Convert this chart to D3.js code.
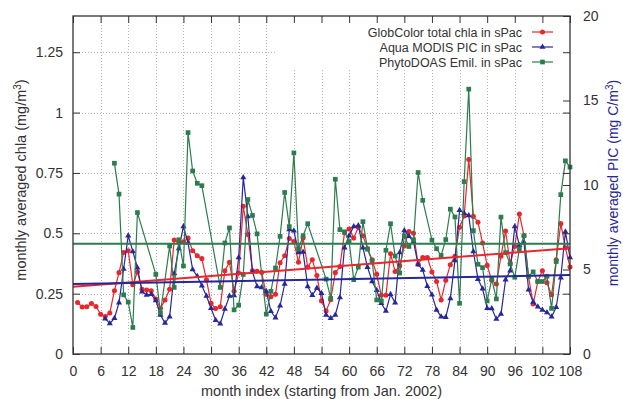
<!DOCTYPE html>
<html>
<head>
<meta charset="utf-8">
<script src="https://cdn.jsdelivr.net/npm/d3@7"></script>
<style>
  html, body { margin: 0; padding: 0; background: #fff; }
  svg { display: block; font-family: "Liberation Sans", Arial, Helvetica, sans-serif; }
</style>
</head>
<body>
<svg id="chart" width="623" height="399"></svg>
<script>
// GlobColor total chla (mg/m^3), months 1..108
const chlaStart = 1;
const chla = [
  0.213, 0.195, 0.196, 0.209, 0.197, 0.165, 0.155, 0.170, 0.262, 0.337, 0.420, 0.428,
  0.287, 0.340, 0.268, 0.265, 0.262, 0.228, 0.189, 0.224, 0.268, 0.472, 0.462, 0.465,
  0.480, 0.428, 0.407, 0.395, 0.307, 0.210, 0.188, 0.196, 0.345, 0.380, 0.260, 0.335,
  0.612, 0.495, 0.345, 0.343, 0.338, 0.247, 0.237, 0.247, 0.378, 0.407, 0.478, 0.466,
  0.380, 0.480, 0.360, 0.390, 0.325, 0.220, 0.178, 0.225, 0.337, 0.362, 0.502, 0.518,
  0.480, 0.525, 0.490, 0.437, 0.390, 0.330, 0.243, 0.243, 0.415, 0.342, 0.365, 0.447,
  0.507, 0.500, 0.372, 0.400, 0.400, 0.340, 0.300, 0.224, 0.305, 0.370, 0.405, 0.525,
  0.572, 0.806, 0.570, 0.546, 0.460, 0.367, 0.305, 0.290, 0.405, 0.509, 0.374, 0.445,
  0.580, 0.490, 0.320, 0.207, 0.300, 0.345, 0.295, 0.245, 0.390, 0.540, 0.440, 0.360
];

// Aqua MODIS PIC (mg C/m^3), months 7..108
const picStart = 7;
const pic = [
  2.09, 1.81, 2.11, 3.04, 5.03, 7.00,
  6.07, 5.11, 3.69, 3.49, 3.53, 3.17, 2.31, 1.83, 2.21, 4.77, 6.24, 7.54,
  6.57, 5.00, 4.60, 4.04, 3.43, 2.71, 2.00, 1.79, 2.66, 3.43, 3.46, 5.71,
  10.44, 8.14, 4.86, 4.00, 3.93, 3.71, 2.53, 2.14, 2.86, 4.14, 7.37, 7.29,
  6.00, 6.03, 4.00, 3.47, 3.90, 3.60, 2.31, 2.11, 2.31, 3.34, 6.29, 7.00,
  7.54, 7.60, 6.29, 5.14, 4.29, 3.77, 3.00, 2.54, 3.53, 3.03, 6.00, 7.31,
  6.97, 6.64, 5.29, 4.97, 4.01, 3.51, 2.61, 2.21, 2.17, 3.29, 5.54, 8.50,
  8.33, 8.20, 6.07, 4.43, 3.86, 2.71, 2.69, 2.07, 2.36, 4.39, 4.93, 7.54,
  6.43, 6.60, 3.80, 3.07, 2.79, 2.61, 2.46, 2.21, 2.76, 4.51, 7.23, 5.71
];

// PhytoDOAS coccolithophore product (mg C/m^3), months 9..108; null = no retrieval
const emilStart = 9;
const emil = [
  11.29, 9.46, 3.50, 3.07,
  1.57, 8.37, null, null, null, 4.71, 2.44, null, 6.39, 3.94, 6.76, 5.21,
  13.10, 10.83, 10.10, 9.96, null, null, null, 3.94, 6.57, 7.46, 2.61, 2.89,
  4.71, 9.14, 8.20, 7.11, null, 2.36, 3.71, 5.09, 6.96, 9.56, 7.54, 11.90,
  6.21, 7.00, 7.71, null, null, null, 4.43, 3.29, 10.34, 7.36, 7.23, 6.66,
  4.40, 5.14, 7.83, 6.20, 5.50, 3.20, 3.14, 6.14, 7.71, 5.80, 4.79, 7.00,
  6.36, 6.76, 10.74, 9.09, null, 6.74, 6.23, 5.83, 6.77, 8.57, 8.11, 3.00,
  10.20, 15.67, 7.30, 5.31, 5.11, 3.14, 4.43, 3.26, 8.10, 6.00, 5.33, 4.54,
  6.21, 7.00, 4.60, 4.86, 4.29, 4.29, 4.60, 2.70, 5.47, 9.43, 11.43, 11.06
];

// Linear trend end points at month 0 and month 108
const trendMonths = [0, 108];
const chlaTrend = [0.279, 0.438];
const picTrend = [4.14, 4.67];
const emilTrend = [6.53, 6.53];

// Axis ticks
const xTicks = d3.range(0, 109, 6);
const y1Ticks = [0, 0.25, 0.5, 0.75, 1, 1.25];
const y2Ticks = [0, 5, 10, 15, 20];

const legendLabels = [
  "GlobColor total chla in sPac",
  "Aqua MODIS PIC in sPac",
  "PhytoDOAS Emil. in sPac"
];

const colors = { red: "#e8262c", blue: "#27279a", green: "#2d7c4e" };
const ink = "#333";

const svg = d3.select("#chart");
const L = 73, R = 570, T = 16, B = 354;

const x = d3.scaleLinear().domain([0, 108]).range([L, R]);
const y1 = d3.scaleLinear().domain([0, 1.4]).range([B, T]);
const y2 = d3.scaleLinear().domain([0, 20]).range([B, T]);

const toPoints = (arr, start) => arr.map((v, i) => ({ m: start + i, v })).filter(d => d.v != null);
const chlaPts = toPoints(chla, chlaStart);
const picPts = toPoints(pic, picStart);
const emilPts = toPoints(emil, emilStart);

// grid
const grid = svg.append("g").attr("stroke", "#b4b4b4").attr("stroke-width", 1)
  .attr("stroke-dasharray", "1,2");
grid.selectAll("line.v").data(xTicks.filter(t => t > 0 && t < 108)).join("line")
  .attr("x1", d => Math.round(x(d)) + 0.5).attr("x2", d => Math.round(x(d)) + 0.5)
  .attr("y1", T).attr("y2", B);
grid.selectAll("line.h").data(y1Ticks.filter(t => t > 0)).join("line")
  .attr("x1", L).attr("x2", R)
  .attr("y1", d => Math.round(y1(d)) + 0.5).attr("y2", d => Math.round(y1(d)) + 0.5);

// opaque key box
svg.append("rect").attr("x", 277).attr("y", T + 1).attr("width", R - 277 - 1).attr("height", 51)
  .attr("fill", "#fff");

// series
function drawSeries(pts, yScale, color, shape) {
  const g = svg.append("g");
  g.append("path")
    .attr("d", d3.line().x(d => x(d.m)).y(d => yScale(d.v))(pts))
    .attr("fill", "none").attr("stroke", color).attr("stroke-width", 1.2);
  const sym = d3.symbol().type(shape.type).size(shape.size);
  g.selectAll("path.mk").data(pts).join("path")
    .attr("class", "mk")
    .attr("d", sym)
    .attr("transform", d => `translate(${x(d.m)},${yScale(d.v)})`)
    .attr("fill", color);
}
const shapes = {
  circle: { type: d3.symbolCircle, size: 20 },
  triangle: { type: d3.symbolTriangle, size: 16 },
  square: { type: d3.symbolSquare, size: 22 }
};
drawSeries(chlaPts, y1, colors.red, shapes.circle);
drawSeries(picPts, y2, colors.blue, shapes.triangle);
drawSeries(emilPts, y2, colors.green, shapes.square);

// trend lines
function drawTrend(vals, yScale, color) {
  svg.append("path")
    .attr("d", d3.line().x((d, i) => x(trendMonths[i])).y(d => yScale(d))(vals))
    .attr("fill", "none").attr("stroke", color).attr("stroke-width", 2);
}
drawTrend(chlaTrend, y1, colors.red);
drawTrend(picTrend, y2, colors.blue);
drawTrend(emilTrend, y2, colors.green);

// axes
const fontSize = 14;
function styleAxis(g) {
  g.select(".domain").remove();
  g.selectAll(".tick line").attr("stroke", ink).attr("stroke-width", 1);
  g.selectAll(".tick text").attr("fill", ink).attr("font-size", fontSize)
    .attr("font-family", "Liberation Sans, Arial, sans-serif");
}
svg.append("g").attr("transform", `translate(0,${B})`)
  .call(d3.axisBottom(x).tickValues(xTicks).tickSizeInner(-7).tickSizeOuter(0).tickPadding(12))
  .call(styleAxis);
svg.append("g").attr("transform", `translate(0,${T})`)
  .call(d3.axisTop(x).tickValues(xTicks).tickSizeInner(-7).tickSizeOuter(0).tickFormat(""))
  .call(styleAxis);
svg.append("g").attr("transform", `translate(${L},0)`)
  .call(d3.axisLeft(y1).tickValues(y1Ticks).tickSizeInner(-7).tickSizeOuter(0).tickPadding(10)
    .tickFormat(d => d3.format("")(d)))
  .call(styleAxis);
svg.append("g").attr("transform", `translate(${R},0)`)
  .call(d3.axisRight(y1).tickValues(y1Ticks).tickSizeInner(-7).tickSizeOuter(0).tickFormat(""))
  .call(styleAxis);
svg.append("g").attr("transform", `translate(${R},0)`)
  .call(d3.axisRight(y2).tickValues(y2Ticks).tickSizeInner(-7).tickSizeOuter(0).tickPadding(13))
  .call(styleAxis);

// frame
svg.append("rect").attr("x", L).attr("y", T).attr("width", R - L).attr("height", B - T)
  .attr("fill", "none").attr("stroke", ink).attr("stroke-width", 1.3);

// axis titles
svg.append("text").attr("x", (L + R) / 2).attr("y", 396).attr("text-anchor", "middle")
  .attr("font-size", 14.5).attr("fill", ink).text("month index (starting from Jan. 2002)");

const yt = svg.append("text").attr("transform", "translate(26,180) rotate(-90)")
  .attr("text-anchor", "middle").attr("font-size", 14.5).attr("fill", ink);
yt.append("tspan").text("monthly averaged chla (mg/m");
yt.append("tspan").attr("baseline-shift", "super").attr("font-size", 10).text("3");
yt.append("tspan").text(")");

const y2t = svg.append("text").attr("transform", "translate(618,183) rotate(-90)")
  .attr("text-anchor", "middle").attr("font-size", 14).attr("fill", colors.blue);
y2t.append("tspan").text("monthly averaged PIC (mg C/m");
y2t.append("tspan").attr("baseline-shift", "super").attr("font-size", 10).text("3");
y2t.append("tspan").text(")");

// legend
const legendItems = [
  { label: legendLabels[0], color: colors.red, shape: shapes.circle },
  { label: legendLabels[1], color: colors.blue, shape: shapes.triangle },
  { label: legendLabels[2], color: colors.green, shape: shapes.square }
];
const lg = svg.append("g");
legendItems.forEach((it, i) => {
  const cy = 32 + i * 15;
  lg.append("text").attr("x", 522).attr("y", cy + 4.5).attr("text-anchor", "end")
    .attr("font-size", 12.5).attr("fill", ink).text(it.label);
  lg.append("line").attr("x1", 532).attr("x2", 553).attr("y1", cy).attr("y2", cy)
    .attr("stroke", it.color).attr("stroke-width", 1.2);
  lg.append("path").attr("d", d3.symbol().type(it.shape.type).size(it.shape.size)())
    .attr("transform", `translate(542.5,${cy})`).attr("fill", it.color);
});
</script>
</body>
</html>
